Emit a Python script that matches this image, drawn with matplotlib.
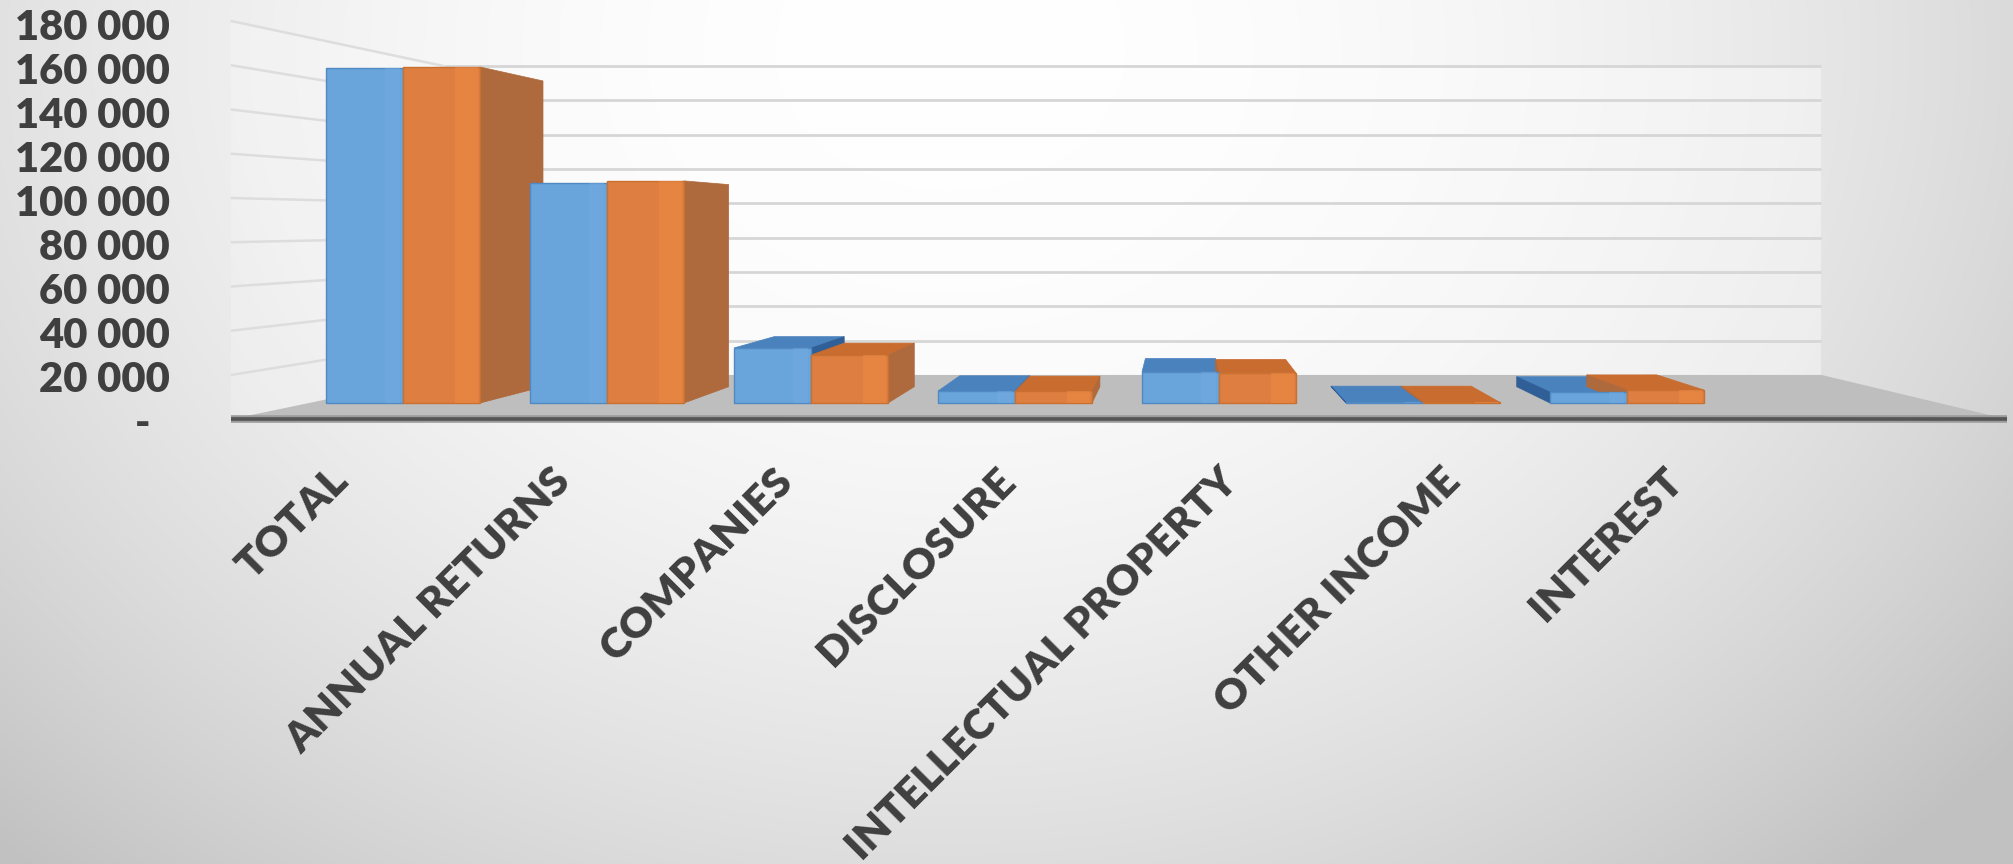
import numpy as np
import matplotlib
matplotlib.use("Agg")
import matplotlib.pyplot as plt
from matplotlib.patches import Polygon
from matplotlib.ticker import FixedLocator, FuncFormatter

# ---------------- data ----------------
categories = ["TOTAL", "ANNUAL RETURNS", "COMPANIES", "DISCLOSURE",
              "INTELLECTUAL PROPERTY", "OTHER INCOME", "INTEREST"]
series_blue = [165000, 108400, 27100, 5900, 15300, 300, 5400]
series_orange = [165500, 109400, 23600, 5700, 14800, 300, 6400]
value_ticks = [0, 20000, 40000, 60000, 80000, 100000, 120000, 140000, 160000, 180000]

# ---------------- layout / style ----------------
W, H, DPI = 2013, 864, 100
X0, CAT = 403.0, 204.0          # pixel x of first category centre, px per category
BASE = 403.0                    # pixel y of bar base (front plane)
K = 335.0 / 165000.0            # px per value unit on the bar front plane
VP_PX = (1180.0, 222.0)         # vanishing point (pixels)
S_BAR, S_FRONT, S_BACK = 0.91, 1.09, 0.845
FLOOR_L, FLOOR_R = -0.46, 7.53  # floor extent in category units
BAR_W = 77.0 / 204.0
TXT = "#3F3F3F"
FONT = "Lato"
WEIGHT = "heavy"

BLUE_FRONT, BLUE_TOP, BLUE_SIDE, BLUE_EDGE, BLUE_HI = "#69A4DB", "#4A82BE", "#2F5F96", "#5189C2", "#74ACE0"
OR_FRONT, OR_TOP, OR_SIDE, OR_EDGE, OR_HI = "#DE7E40", "#C96C2F", "#AE693C", "#C8702F", "#EC8A45"

fig = plt.figure(figsize=(W / DPI, H / DPI), dpi=DPI)

# background radial gradient
bg = fig.add_axes([0, 0, 1, 1], zorder=0)
yy, xx = np.mgrid[0:H, 0:W]
r2 = ((xx - 950) / 1250.0) ** 2 + ((yy - 50) / 1000.0) ** 2
g = np.clip(1 - 0.2 * r2, 0.76, 1.0)
bg.imshow(np.dstack([g, g, g]), extent=[0, W, H, 0], aspect="auto", interpolation="bilinear")
bg.set_axis_off()

# main drawing axes (data: x = category index, y = value on bar front plane)
ax = fig.add_axes([0, 0, 1, 1], zorder=1)
ax.patch.set_alpha(0)
ax.set_axis_off()
ax.set_xlim(-X0 / CAT, (W - X0) / CAT)
ax.set_ylim((BASE - H) / K, BASE / K)

cx = (VP_PX[0] - X0) / CAT
cy = (BASE - VP_PX[1]) / K


def proj(x, y, s):
    return (cx + s * (x - cx), cy + s * (y - cy))


top_v = value_ticks[-1]

# walls
back_wall = [proj(FLOOR_L, 0, S_BACK), proj(FLOOR_R, 0, S_BACK),
             proj(FLOOR_R, top_v, S_BACK), proj(FLOOR_L, top_v, S_BACK)]
ax.add_patch(Polygon(back_wall, closed=True, facecolor="white", alpha=0.4, edgecolor="none", zorder=1))
left_wall = [proj(FLOOR_L, 0, S_FRONT), proj(FLOOR_L, 0, S_BACK),
             proj(FLOOR_L, top_v, S_BACK), proj(FLOOR_L, top_v, S_FRONT)]
ax.add_patch(Polygon(left_wall, closed=True, facecolor="white", alpha=0.2, edgecolor="none", zorder=1))

for v in value_ticks[1:]:
    p1, p2 = proj(FLOOR_L, v, S_BACK), proj(FLOOR_R, v, S_BACK)
    ax.plot([p1[0], p2[0]], [p1[1], p2[1]], color="#D6D6D6", lw=2.0, zorder=2, solid_capstyle="butt")
    q1 = proj(FLOOR_L, v, S_FRONT)
    ax.plot([q1[0], p1[0]], [q1[1], p1[1]], color="#DDDDDD", lw=1.8, zorder=2, solid_capstyle="butt")

# floor
floor = [proj(FLOOR_L, 0, S_FRONT), proj(FLOOR_R, 0, S_FRONT),
         proj(FLOOR_R, 0, S_BACK), proj(FLOOR_L, 0, S_BACK)]
ax.add_patch(Polygon(floor, closed=True, facecolor="#BEBEBE", edgecolor="none", zorder=3))
fl, fr = proj(FLOOR_L, 0, S_FRONT), proj(FLOOR_R, 0, S_FRONT)
ax.plot([fl[0], fr[0]], [fl[1], fl[1]], color="#9C9C9C", lw=5.5, zorder=3.5, solid_capstyle="butt")
ax.plot([fl[0], fr[0]], [fl[1], fl[1]], color="#555555", lw=2.6, zorder=3.6, solid_capstyle="butt")

# bars
n = len(categories)
idx = np.arange(n)
x_blue = idx - BAR_W / 2
x_orange = idx + BAR_W / 2


def back_faces(xc, h, top_c, side_c):
    x0, x1 = xc - BAR_W / 2, xc + BAR_W / 2
    if h < cy:
        ax.add_patch(Polygon([(x0, h), (x1, h), proj(x1, h, S_BAR), proj(x0, h, S_BAR)],
                             closed=True, facecolor=top_c, edgecolor=top_c, lw=0.5, zorder=4))
    if x1 < cx:
        ax.add_patch(Polygon([(x1, 0), (x1, h), proj(x1, h, S_BAR), proj(x1, 0, S_BAR)],
                             closed=True, facecolor=side_c, edgecolor=side_c, lw=0.5, zorder=4))
    elif x0 > cx:
        ax.add_patch(Polygon([(x0, 0), (x0, h), proj(x0, h, S_BAR), proj(x0, 0, S_BAR)],
                             closed=True, facecolor=side_c, edgecolor=side_c, lw=0.5, zorder=4))


for xc, h in zip(x_blue, series_blue):
    back_faces(xc, h, BLUE_TOP, BLUE_SIDE)
for xc, h in zip(x_orange, series_orange):
    back_faces(xc, h, OR_TOP, OR_SIDE)

ax.bar(x_blue, series_blue, width=BAR_W, color=BLUE_FRONT, edgecolor=BLUE_EDGE, lw=1.0, zorder=5)
ax.bar(x_orange, series_orange, width=BAR_W, color=OR_FRONT, edgecolor=OR_EDGE, lw=1.0, zorder=5)
# lighter vertical highlight stripes (3D shading)
ax.bar(x_blue + BAR_W * 0.36, series_blue, width=BAR_W * 0.2, color=BLUE_HI, lw=0, alpha=0.45, zorder=5.5)
ax.bar(x_orange + BAR_W * 0.32, series_orange, width=BAR_W * 0.3, color=OR_HI, lw=0, alpha=0.6, zorder=5.5)

# category labels along the front edge of the floor
label_y = (BASE - 475.0) / K
for i, cat in enumerate(categories):
    xf = cx + S_FRONT * (i - cx) + 9.0 / CAT
    ax.text(xf, label_y, cat, rotation=45, rotation_mode="anchor", ha="right", va="center",
            fontsize=30.5, fontweight=WEIGHT, family=FONT, color=TXT, zorder=6)

# value axis labels
LK = 44.0 / 20000.0
ZERO_PX = 421.0
ax2 = fig.add_axes([178.0 / W, 0, 0.001, 1], zorder=2)
ax2.patch.set_alpha(0)
ax2.set_ylim((ZERO_PX - H) / LK, ZERO_PX / LK)
ax2.yaxis.set_major_locator(FixedLocator(value_ticks))
ax2.yaxis.set_major_formatter(FuncFormatter(
    lambda v, p: "-  " if v == 0 else f"{int(round(v)):,}".replace(",", " ")))
ax2.tick_params(axis="y", length=0, pad=6.0, labelsize=30, labelcolor=TXT)
ax2.set_xticks([])
for lab in ax2.get_yticklabels():
    lab.set_fontweight(WEIGHT)
    lab.set_family(FONT)
for sp in ax2.spines.values():
    sp.set_visible(False)

fig.savefig("out.png", dpi=DPI)
